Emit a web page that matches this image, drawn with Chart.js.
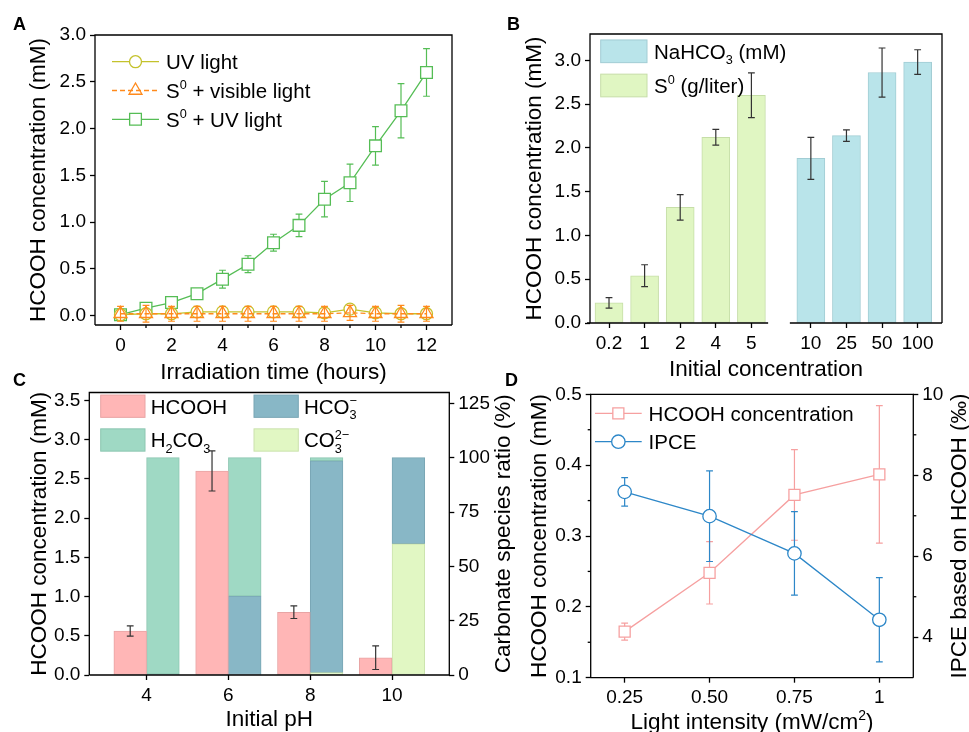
<!DOCTYPE html>
<html>
<head>
<meta charset="utf-8">
<title>HCOOH production</title>
<script src="https://cdn.jsdelivr.net/npm/chart.js@4.4.1/dist/chart.umd.min.js"></script>
<style>
  html, body { margin: 0; padding: 0; background: #fff; }
  #page { position: relative; width: 969px; height: 732px; overflow: hidden; }
  #page canvas { position: absolute; left: 0; top: 0; }
  .panel { position: absolute; font: bold 18px "Liberation Sans", Arial, sans-serif; line-height: 1; }
</style>
</head>
<body>
<div id="page">
  <canvas id="chartA" width="969" height="732"></canvas>
  <canvas id="chartB" width="969" height="732"></canvas>
  <canvas id="chartC" width="969" height="732"></canvas>
  <canvas id="chartD" width="969" height="732"></canvas>
  <div class="panel" style="left:13px;top:15px">A</div>
  <div class="panel" style="left:507px;top:15px">B</div>
  <div class="panel" style="left:13px;top:371px">C</div>
  <div class="panel" style="left:505px;top:371px">D</div>
</div>
<script>
// ---- panel A: HCOOH vs irradiation time ----
const hours = [0, 1, 2, 3, 4, 5, 6, 7, 8, 9, 10, 11, 12];
const uvOnly = [0.01, 0.02, 0.02, 0.04, 0.04, 0.04, 0.04, 0.04, 0.03, 0.07, 0.03, 0.02, 0.02];
const uvOnlyErr = [0.04, 0.04, 0.04, 0.05, 0.05, 0.05, 0.05, 0.05, 0.05, 0.04, 0.05, 0.05, 0.05];
const s0Visible = [0.02, 0.02, 0.02, 0.02, 0.02, 0.02, 0.02, 0.02, 0.02, 0.03, 0.02, 0.02, 0.02];
const s0VisibleErr = [0.08, 0.09, 0.08, 0.08, 0.08, 0.08, 0.08, 0.08, 0.08, 0.08, 0.08, 0.09, 0.08];
const s0UV = [0.01, 0.08, 0.14, 0.235, 0.39, 0.55, 0.78, 0.965, 1.245, 1.42, 1.815, 2.19, 2.6];
const s0UVErr = [0.06, 0.03, 0.03, 0.03, 0.095, 0.09, 0.09, 0.12, 0.19, 0.2, 0.205, 0.29, 0.255];
const timeTicks = [0, 2, 4, 6, 8, 10, 12];
const concTicksA = [0, 0.5, 1, 1.5, 2, 2.5, 3];

// ---- panel B: initial concentration ----
const s0Labels = ['0.2', '1', '2', '4', '5'];
const s0Conc = [0.23, 0.54, 1.32, 2.12, 2.6];
const s0Err = [0.06, 0.125, 0.145, 0.09, 0.255];
const nahco3Labels = ['10', '25', '50', '100'];
const nahco3Conc = [1.88, 2.14, 2.86, 2.98];
const nahco3Err = [0.24, 0.065, 0.28, 0.14];
const concTicksB = [0, 0.5, 1, 1.5, 2, 2.5, 3];

// ---- panel C: initial pH ----
const phValues = [4, 6, 8, 10];
const hcoohByPh = [0.56, 2.6, 0.8, 0.22];
const hcoohByPhErr = [0.065, 0.255, 0.08, 0.15];
const co3Ratio = [0, 0, 1.1, 60.4];
const hco3Ratio = [0.4, 36.3, 97.4, 39.6];
const h2co3Ratio = [99.6, 63.7, 1.5, 0];
const concTicksC = [0, 0.5, 1, 1.5, 2, 2.5, 3, 3.5];
const ratioTicks = [0, 25, 50, 75, 100, 125];

// ---- panel D: light intensity ----
const intensity = [0.25, 0.5, 0.75, 1];
const intensityLabels = ['0.25', '0.50', '0.75', '1'];
const hcoohByLight = [0.165, 0.248, 0.358, 0.387];
const hcoohByLightErr = [0.012, 0.044, 0.064, 0.097];
const ipce = [7.59, 6.99, 6.07, 4.43];
const ipceErr = [0.35, 1.12, 1.03, 1.04];
const concTicksD = [0.1, 0.2, 0.3, 0.4, 0.5];
const ipceTicks = [4, 6, 8, 10];

const FONT = '"Liberation Sans", Arial, Helvetica, sans-serif';
Chart.defaults.font.family = FONT;
Chart.defaults.color = '#000';
Chart.defaults.animation = false;
Chart.defaults.plugins.legend.display = false;
Chart.defaults.plugins.tooltip.enabled = false;

// text with sub/superscripts: parts = [[text, kind]], kind '' | 'sub' | 'sup' | 'over' (sup stacked over previous sub)
function richLayout(ctx, parts, size) {
  let cx = 0, lastStart = 0, lastEnd = 0;
  const items = [];
  for (const [text, kind] of parts) {
    const fs = kind ? size * 0.62 : size;
    ctx.font = fs + 'px ' + FONT;
    const w = ctx.measureText(text).width;
    const start = kind === 'over' ? lastStart : cx;
    const dy = kind === 'sub' ? size * 0.26 : (kind === 'sup' || kind === 'over') ? -size * 0.42 : 0;
    items.push({ text, fs, x: start, dy });
    if (kind === 'over') cx = Math.max(lastEnd, start + w);
    else { lastStart = start; lastEnd = start + w; cx = lastEnd; }
  }
  return { items, width: cx };
}
function drawRich(ctx, parts, x, y, size, align) {
  if (typeof parts === 'string') parts = [[parts, '']];
  const lay = richLayout(ctx, parts, size);
  const x0 = align === 'center' ? x - lay.width / 2 : x;
  const base = y + size * 0.36;
  ctx.textAlign = 'left';
  ctx.textBaseline = 'alphabetic';
  for (const it of lay.items) {
    ctx.font = it.fs + 'px ' + FONT;
    ctx.fillText(it.text, x0 + it.x, base + it.dy);
  }
}

function pts(xs, ys) { return xs.map((x, i) => ({ x: x, y: ys[i] })); }

function scale(min, max, ticks, fit, label, extra) {
  return Object.assign({
    type: 'linear', min: min, max: max, offset: false,
    afterBuildTicks: s => { s.ticks = ticks.map(v => ({ value: v })); },
    afterFit: s => { if (s.isHorizontal()) s.height = fit; else s.width = fit; },
    border: { display: false },
    grid: { offset: false, drawOnChartArea: false, tickLength: 5, tickWidth: 1.3, tickColor: '#000' },
    ticks: { font: { size: 19 }, color: '#000', padding: 4, autoSkip: false, maxRotation: 0,
             callback: (v, i) => label(v, i) }
  }, extra || {});
}

// error bars, drawn under the markers of line series and over bars
function drawErrors(chart, i) {
  const ds = chart.data.datasets[i];
  if (!ds.errors) return;
  const meta = chart.getDatasetMeta(i);
  const ys = chart.scales[meta.yAxisID];
  const ctx = chart.ctx;
  const cap = 3.4;
  ctx.save();
  ctx.strokeStyle = ds.errColor || ds.borderColor;
  ctx.lineWidth = 1.2;
  meta.data.forEach((el, k) => {
    const v = ds.data[k].y, e = ds.errors[k];
    const x = el.x, y1 = ys.getPixelForValue(v + e), y2 = ys.getPixelForValue(v - e);
    ctx.beginPath();
    ctx.moveTo(x, y1); ctx.lineTo(x, y2);
    ctx.moveTo(x - cap, y1); ctx.lineTo(x + cap, y1);
    ctx.moveTo(x - cap, y2); ctx.lineTo(x + cap, y2);
    ctx.stroke();
  });
  ctx.restore();
}
const errorBars = {
  id: 'errorBars',
  beforeDatasetDraw(chart, args) { if (chart.data.datasets[args.index].errUnder) drawErrors(chart, args.index); },
  afterDatasetDraw(chart, args) { if (!chart.data.datasets[args.index].errUnder) drawErrors(chart, args.index); }
};

// box around the plot, optional broken bottom axis, minor ticks between majors
function frame(opts) {
  return {
    id: 'frame',
    afterDatasetsDraw(chart) {
      const { left, top, right, bottom } = chart.chartArea;
      const ctx = chart.ctx;
      ctx.save();
      ctx.strokeStyle = '#000';
      ctx.lineWidth = 1.3;
      ctx.beginPath();
      ctx.moveTo(left, bottom); ctx.lineTo(left, top); ctx.lineTo(right, top); ctx.lineTo(right, bottom);
      if (opts.breakAt) {
        const xs = chart.scales.x;
        ctx.moveTo(left - 3, bottom); ctx.lineTo(xs.getPixelForValue(opts.breakAt[0]), bottom);
        ctx.moveTo(xs.getPixelForValue(opts.breakAt[1]), bottom); ctx.lineTo(right, bottom);
      } else {
        ctx.moveTo(left, bottom); ctx.lineTo(right, bottom);
      }
      ctx.stroke();
      (opts.minor || []).forEach(id => {
        const s = chart.scales[id];
        for (let k = 0; k < s.ticks.length - 1; k++) {
          const p = s.getPixelForValue((s.ticks[k].value + s.ticks[k + 1].value) / 2);
          ctx.beginPath();
          if (s.isHorizontal()) { ctx.moveTo(p, bottom); ctx.lineTo(p, bottom + 3); }
          else if (s.position === 'right') { ctx.moveTo(right, p); ctx.lineTo(right + 3, p); }
          else { ctx.moveTo(left - 3, p); ctx.lineTo(left, p); }
          ctx.stroke();
        }
      });
      ctx.restore();
    }
  };
}

// axis titles (side titles read bottom-to-top on both sides)
function titles(items) {
  return {
    id: 'axisTitles',
    afterDraw(chart) {
      const ca = chart.chartArea, ctx = chart.ctx;
      items.forEach(t => {
        ctx.save();
        ctx.fillStyle = '#000';
        if (t.side === 'bottom') {
          ctx.translate((ca.left + ca.right) / 2, ca.bottom + t.gap);
        } else {
          ctx.translate(t.side === 'left' ? ca.left - t.gap : ca.right + t.gap, (ca.top + ca.bottom) / 2);
          ctx.rotate(-Math.PI / 2);
        }
        drawRich(ctx, t.text, 0, 0, 22.5, 'center');
        ctx.restore();
      });
    }
  };
}

function legend(cfg) {
  return {
    id: 'customLegend',
    afterDraw(chart) {
      const ca = chart.chartArea, ctx = chart.ctx;
      cfg.items.forEach((it, n) => {
        const col = n % cfg.cols, row = Math.floor(n / cfg.cols);
        const x = ca.left + cfg.x + col * (cfg.colW || 0);
        const y = ca.top + cfg.y + row * cfg.rowH;
        const ds = chart.data.datasets[it.ds];
        ctx.save();
        if (cfg.kind === 'box') {
          ctx.fillStyle = ds.backgroundColor;
          ctx.strokeStyle = ds.borderColor;
          ctx.lineWidth = 1;
          ctx.fillRect(x, y - cfg.boxH / 2, cfg.boxW, cfg.boxH);
          ctx.strokeRect(x, y - cfg.boxH / 2, cfg.boxW, cfg.boxH);
        } else {
          ctx.strokeStyle = ds.borderColor;
          ctx.lineWidth = ds.borderWidth;
          ctx.setLineDash(ds.borderDash || []);
          ctx.beginPath(); ctx.moveTo(x, y); ctx.lineTo(x + cfg.boxW, y); ctx.stroke();
          ctx.setLineDash([]);
          ctx.fillStyle = ds.pointBackgroundColor;
          ctx.strokeStyle = ds.pointBorderColor;
          ctx.lineWidth = ds.pointBorderWidth;
          Chart.helpers.drawPoint(ctx, { pointStyle: ds.pointStyle, radius: ds.pointRadius,
            borderWidth: ds.pointBorderWidth, rotation: 0 }, x + cfg.boxW / 2, y);
        }
        ctx.fillStyle = '#000';
        drawRich(ctx, it.text, x + cfg.textX, y, 20.5);
        ctx.restore();
      });
    }
  };
}

function lineSeries(label, xs, ys, errs, color, style, radius, order, dash, fill) {
  return {
    label: label, data: pts(xs, ys), errors: errs, errUnder: true,
    borderColor: color, borderWidth: 1.3, borderDash: dash || [],
    pointStyle: style, pointRadius: radius, pointBorderWidth: 1.3,
    pointBorderColor: color, pointBackgroundColor: fill || '#fff',
    tension: 0, order: order
  };
}

// ---------- A ----------
new Chart(document.getElementById('chartA'), {
  type: 'line',
  data: {
    datasets: [
      lineSeries('UV light', hours, uvOnly, uvOnlyErr, '#c4c22c', 'circle', 6, 1),
      lineSeries('S0 + visible light', hours, s0Visible, s0VisibleErr, '#ff8a1c', 'triangle', 7.5, 0, [5, 3], 'rgba(255,255,255,0)'),
      lineSeries('S0 + UV light', hours, s0UV, s0UVErr, '#55bd55', 'rect', 8.3, 2)
    ]
  },
  options: {
    responsive: false,
    devicePixelRatio: 1,
    layout: { padding: { left: 55, top: 35, right: 517, bottom: 377 } },
    scales: {
      x: scale(-1, 13, timeTicks, 30, v => String(v)),
      y: scale(-0.1, 3.0, concTicksA, 40, v => v.toFixed(1))
    }
  },
  plugins: [errorBars, frame({ minor: ['x'] }),
    titles([
      { text: 'HCOOH concentration (mM)', side: 'left', gap: 58 },
      { text: 'Irradiation time (hours)', side: 'bottom', gap: 46 }
    ]),
    legend({ kind: 'line', x: 17, y: 26.7, rowH: 28.8, cols: 1, boxW: 47, textX: 54, items: [
      { ds: 0, text: [['UV light', '']] },
      { ds: 1, text: [['S', ''], ['0', 'sup'], [' + visible light', '']] },
      { ds: 2, text: [['S', ''], ['0', 'sup'], [' + UV light', '']] }
    ] })
  ]
});

// ---------- B ----------
const B_GAP = 0.67; // extra space of the axis break, in bar slots
const s0Pos = s0Labels.map((_, i) => i);
const naPos = nahco3Labels.map((_, i) => s0Labels.length + B_GAP + i);
const bLabels = s0Labels.concat(nahco3Labels);
new Chart(document.getElementById('chartB'), {
  type: 'bar',
  data: {
    datasets: [
      { label: 'NaHCO3 (mM)', data: pts(naPos, nahco3Conc), errors: nahco3Err, errColor: '#333',
        backgroundColor: '#b9e4ea', borderColor: '#a2cdd4', borderWidth: 1, borderSkipped: false,
        barThickness: 28, grouped: false },
      { label: 'S0 (g/liter)', data: pts(s0Pos, s0Conc), errors: s0Err, errColor: '#333',
        backgroundColor: '#e0f6c2', borderColor: '#c6dea8', borderWidth: 1, borderSkipped: false,
        barThickness: 28, grouped: false }
    ]
  },
  options: {
    responsive: false,
    devicePixelRatio: 1,
    layout: { padding: { left: 550, top: 34, right: 27, bottom: 379 } },
    scales: {
      x: scale(-0.534, 9.354, s0Pos.concat(naPos), 30, (v, i) => bLabels[i]),
      y: scale(0, 3.3, concTicksB, 40, v => v.toFixed(1))
    }
  },
  plugins: [errorBars, frame({ breakAt: [s0Labels.length - 1 + 0.47, s0Labels.length + B_GAP - 0.59] }),
    titles([
      { text: 'HCOOH concentration (mM)', side: 'left', gap: 56.7 },
      { text: 'Initial concentration', side: 'bottom', gap: 45 }
    ]),
    legend({ kind: 'box', x: 10.7, y: 17.3, rowH: 34.2, cols: 1, boxW: 46.3, boxH: 22.7, textX: 53.3, items: [
      { ds: 0, text: [['NaHCO', ''], ['3', 'sub'], [' (mM)', '']] },
      { ds: 1, text: [['S', ''], ['0', 'sup'], [' (g/liter)', '']] }
    ] })
  ]
});

// ---------- C ----------
const C_SHIFT = 0.4; // half of a bar, HCOOH left of the tick, carbonate right of it
const cBar = { borderWidth: 1, borderSkipped: false, barThickness: 32.7, grouped: false };
new Chart(document.getElementById('chartC'), {
  type: 'bar',
  data: {
    datasets: [
      Object.assign({ label: 'HCOOH', data: pts(phValues.map(p => p - C_SHIFT), hcoohByPh), yAxisID: 'y',
        errors: hcoohByPhErr, errColor: '#333', backgroundColor: '#ffb6b6', borderColor: '#e8a4a4' }, cBar),
      Object.assign({ label: 'CO3 2-', data: pts(phValues.map(p => p + C_SHIFT), co3Ratio), yAxisID: 'y2',
        stack: 'carb', backgroundColor: '#e1f7c3', borderColor: '#cbe2ad' }, cBar),
      Object.assign({ label: 'HCO3 -', data: pts(phValues.map(p => p + C_SHIFT), hco3Ratio), yAxisID: 'y2',
        stack: 'carb', backgroundColor: '#88b7c6', borderColor: '#79a6b4' }, cBar),
      Object.assign({ label: 'H2CO3', data: pts(phValues.map(p => p + C_SHIFT), h2co3Ratio), yAxisID: 'y2',
        stack: 'carb', backgroundColor: '#9fd9c4', borderColor: '#8cc6b1' }, cBar)
    ]
  },
  options: {
    responsive: false,
    devicePixelRatio: 1,
    layout: { padding: { left: 49.3, top: 392.5, right: 479.7, bottom: 27 } },
    scales: {
      x: scale(2.6, 11.4, phValues, 30, v => String(v)),
      y: scale(0, 3.6, concTicksC, 40, v => v.toFixed(1)),
      y2: scale(0, 130, ratioTicks, 40, v => String(v), { position: 'right', stacked: true })
    }
  },
  plugins: [errorBars, frame({}),
    titles([
      { text: 'HCOOH concentration (mM)', side: 'left', gap: 51 },
      { text: 'Carbonate species ratio (%)', side: 'right', gap: 52.4 },
      { text: 'Initial pH', side: 'bottom', gap: 43 }
    ]),
    legend({ kind: 'box', x: 11.4, y: 13.7, rowH: 33.8, cols: 2, colW: 153.3, boxW: 44.3, boxH: 22.3, textX: 50, items: [
      { ds: 0, text: [['HCOOH', '']] },
      { ds: 2, text: [['HCO', ''], ['3', 'sub'], ['\u2212', 'over']] },
      { ds: 3, text: [['H', ''], ['2', 'sub'], ['CO', ''], ['3', 'sub']] },
      { ds: 1, text: [['CO', ''], ['3', 'sub'], ['2\u2212', 'over']] }
    ] })
  ]
});

// ---------- D ----------
const hcoohSeries = lineSeries('HCOOH concentration', intensity, hcoohByLight, hcoohByLightErr, '#f6a0a0', 'rect', 7.8, 1);
hcoohSeries.yAxisID = 'y';
const ipceSeries = lineSeries('IPCE', intensity, ipce, ipceErr, '#2d87c8', 'circle', 6.7, 0);
ipceSeries.yAxisID = 'y2';
new Chart(document.getElementById('chartD'), {
  type: 'line',
  data: { datasets: [hcoohSeries, ipceSeries] },
  options: {
    responsive: false,
    devicePixelRatio: 1,
    layout: { padding: { left: 550.7, top: 394.3, right: 15.7, bottom: 24.3 } },
    scales: {
      x: scale(0.15, 1.1, intensity, 30, (v, i) => intensityLabels[i]),
      y: scale(0.1, 0.5, concTicksD, 40, v => v.toFixed(1)),
      y2: scale(3, 10, ipceTicks, 40, v => String(v), { position: 'right' })
    }
  },
  plugins: [errorBars, frame({ minor: ['y', 'y2'] }),
    titles([
      { text: 'HCOOH concentration (mM)', side: 'left', gap: 52.4 },
      { text: 'IPCE based on HCOOH (\u2030)', side: 'right', gap: 45 },
      { text: [['Light intensity (mW/cm', ''], ['2', 'sup'], [')', '']], side: 'bottom', gap: 43.3 }
    ]),
    legend({ kind: 'line', x: 4.3, y: 19, rowH: 28.4, cols: 1, boxW: 46.7, textX: 53.6, items: [
      { ds: 0, text: [['HCOOH concentration', '']] },
      { ds: 1, text: [['IPCE', '']] }
    ] })
  ]
});
</script>
</body>
</html>
